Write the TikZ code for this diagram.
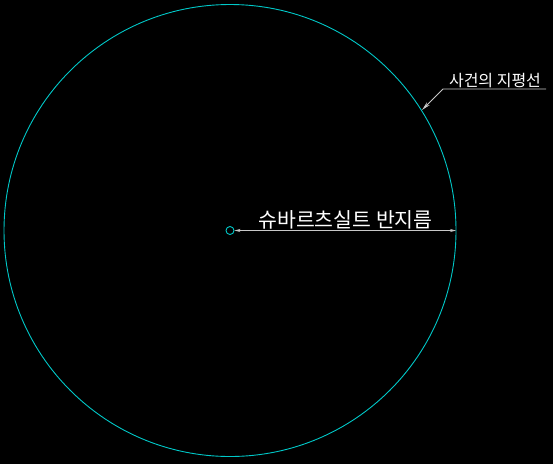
\documentclass[tikz,border=0pt]{standalone}
\usepackage{fontspec}
\newfontfamily\kor{Noto Sans CJK KR}
\usetikzlibrary{arrows.meta}
\definecolor{cadcyan}{RGB}{0,200,200}
\definecolor{cadgray}{RGB}{200,200,200}

\begin{document}
\begin{tikzpicture}[x=1pt, y=-1pt,
    ring/.style={draw=cadcyan, line width=0.9pt},
    lead/.style={draw=cadgray, line width=0.8pt},
    lbl/.style={text=white, inner sep=0pt}]
    % background
    \fill[black] (0,0) rectangle (553,464);

    % event horizon and centre
    \draw[ring] (230,230.5) circle (226);
    \node[ring, circle, minimum size=8pt, inner sep=0pt] (c) at (230,230.5) {};

    % radius
    \coordinate (r) at (456,230.5);
    \draw[lead, {Stealth[length=6pt,width=3pt]}-{Stealth[length=6pt,width=3pt]}] (c.east) -- (r);
    \node[lbl, font=\kor\fontsize{20.5}{22}\selectfont] (rad) at (345.5,219.5) {슈바르츠실트 반지름};

    % horizon label
    \node[lbl, font=\kor\fontsize{16}{18}\selectfont] (hor) at (495,81) {사건의 지평선};
    \coordinate (ur) at (546,89);
    \coordinate (ul) at (443,89);
    \coordinate (hp) at (422,110);
    \draw[lead, -{Stealth[length=9pt,width=4pt]}] (ur) -- (ul) -- (hp);
\end{tikzpicture}
\end{document}
